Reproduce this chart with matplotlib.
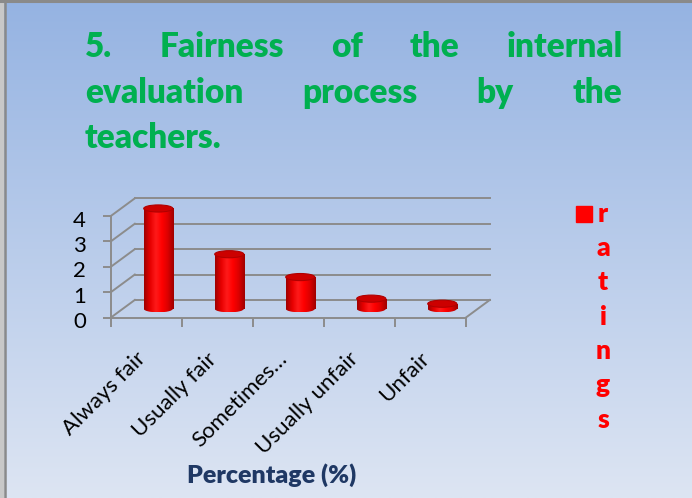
import numpy as np
import matplotlib
matplotlib.use('Agg')
import matplotlib.pyplot as plt
from matplotlib import transforms
from matplotlib.patches import Rectangle, Ellipse
from matplotlib.colors import LinearSegmentedColormap

plt.rcParams['font.family'] = ['Lato', 'DejaVu Sans']

# ---- data ----
categories = ['Always fair', 'Usually fair', 'Sometimes…', 'Usually unfair', 'Unfair']
ratings = [3.95, 2.15, 1.25, 0.40, 0.20]
y_ticks = [0, 1, 2, 3, 4]
title_lines = [['5.', 'Fairness', 'of', 'the', 'internal'],
               ['evaluation', 'process', 'by', 'the'],
               ['teachers.']]
legend_label = 'ratings'
x_title = 'Percentage (%)'

W, H = 692, 498
fig = plt.figure(figsize=(W / 100, H / 100), dpi=100)

# background in pixel coordinates (y grows downwards)
bg = fig.add_axes([0, 0, 1, 1])
bg.set_axis_off()
bg_cmap = LinearSegmentedColormap.from_list('bg', ['#95b3e2', '#dde5f3'])
bg.imshow(np.linspace(0, 1, 256).reshape(-1, 1), cmap=bg_cmap, aspect='auto',
          extent=[0, W, H, 0], zorder=0)
bg.set_xlim(0, W)
bg.set_ylim(H, 0)

# slide border (top and left)
bg.axvspan(0, 3.3, color='#c8c8c8', zorder=1)
bg.plot([0, W], [1.0, 1.0], color='#8a8a8a', lw=2.2, zorder=2)
bg.plot([4.6, 4.6], [0, H], color='#8a8a8a', lw=1.8, zorder=2)

# justified title
renderer = fig.canvas.get_renderer()
left_px, right_px = 85, 622.5
for row, words in enumerate(title_lines):
    base_y = 57.3 + row * 45.5
    texts = [bg.text(0, base_y, w, fontsize=24, fontweight='heavy', color='#00b050',
                     va='baseline', ha='left') for w in words]
    if len(words) == 1:
        texts[0].set_x(left_px)
        continue
    widths = [t.get_window_extent(renderer).width for t in texts]
    gap = (right_px - left_px - sum(widths)) / (len(words) - 1)
    x = left_px
    for t, wd in zip(texts, widths):
        t.set_x(x)
        x += wd + gap

# ---- pseudo 3D column chart ----
DX, DY = 0.34, 0.70          # depth offset in data units
px_cat, px_unit = 71.0, 25.4
x0, y0 = 110.7, H - 317.7
ax = fig.add_axes([x0 / W, y0 / H, px_cat * (5 + DX) / W, px_unit * (4 + DY) / H])
ax.patch.set_visible(False)

grid_c = '#8c8c8c'
for s in ['top', 'right']:
    ax.spines[s].set_visible(False)
for s in ['left', 'bottom']:
    ax.spines[s].set_color(grid_c)
    ax.spines[s].set_linewidth(1.4)
ax.spines['left'].set_bounds(0, 4)
ax.spines['bottom'].set_bounds(-0.5, 4.5)

ax.set_yticks(y_ticks, [str(v) for v in y_ticks])
ax.set_xticks(np.arange(-0.5, len(categories)), [''] * (len(categories) + 1))
ax.tick_params(axis='y', length=5.8, width=1.4, color=grid_c, pad=12,
               labelsize=16, labelcolor='black')
ax.tick_params(axis='x', length=6.5, width=1.4, color=grid_c)
for lbl in ax.get_yticklabels():
    lbl.set_transform(lbl.get_transform() + transforms.Affine2D().translate(0, -2.5))

# back wall, side wall and floor edges
for v in y_ticks:
    ax.plot([-0.5 + DX, 4.5 + DX], [v + DY, v + DY], color=grid_c, lw=1.4,
            clip_on=False, zorder=1)
    ax.plot([-0.5, -0.5 + DX], [v, v + DY], color=grid_c, lw=1.4,
            clip_on=False, zorder=1)
ax.plot([4.5, 4.5 + DX], [0, DY], color=grid_c, lw=1.4, clip_on=False, zorder=1)

# cylinders
bar_w = 0.41
ell_h = 0.28
cyl_cmap = LinearSegmentedColormap.from_list(
    'cyl', ['#a00000', '#e60000', '#ff1a1a', '#ff0000', '#dc0000', '#a00000'])
shade = np.linspace(0, 1, 64).reshape(1, -1)
for i, v in enumerate(ratings):
    cx = i + DX / 2
    base = DY / 2
    top = base + v
    body = Rectangle((cx - bar_w / 2, base), bar_w, v, facecolor='none', edgecolor='none')
    foot = Ellipse((cx, base), bar_w, ell_h, facecolor='none', edgecolor='none')
    ax.add_patch(body)
    ax.add_patch(foot)
    for clip in (body, foot):
        im = ax.imshow(shade, cmap=cyl_cmap, aspect='auto', interpolation='bilinear',
                       extent=[cx - bar_w / 2, cx + bar_w / 2, base - ell_h / 2, top],
                       zorder=3)
        im.set_clip_path(clip)
    ax.add_patch(Ellipse((cx, top), bar_w, ell_h, facecolor='#cc0000',
                         edgecolor='#b00000', lw=0.8, zorder=4))

ax.set_aspect('auto')
ax.set_xlim(-0.5, 4.5 + DX)
ax.set_ylim(0, 4 + DY)

# category labels
lab_tr = transforms.offset_copy(ax.transData, fig=fig, x=3, y=-31, units='dots')
for i, c in enumerate(categories):
    ax.text(i, 0, c, rotation=45, ha='right', va='top', fontsize=16,
            color='black', transform=lab_tr)

# axis title
bg.text(272, 475, x_title, ha='center', va='center', fontsize=18,
        fontweight='heavy', color='#1f3864')

# legend
bg.add_patch(Rectangle((576, 206), 16, 16, color='#ff0000', zorder=3))
for k, ch in enumerate(legend_label):
    bg.text(603, 221.7 + k * 34.3, ch, ha='center', va='baseline', fontsize=19,
            fontweight='heavy', color='#ff0000')

fig.savefig('out.png', dpi=100)
